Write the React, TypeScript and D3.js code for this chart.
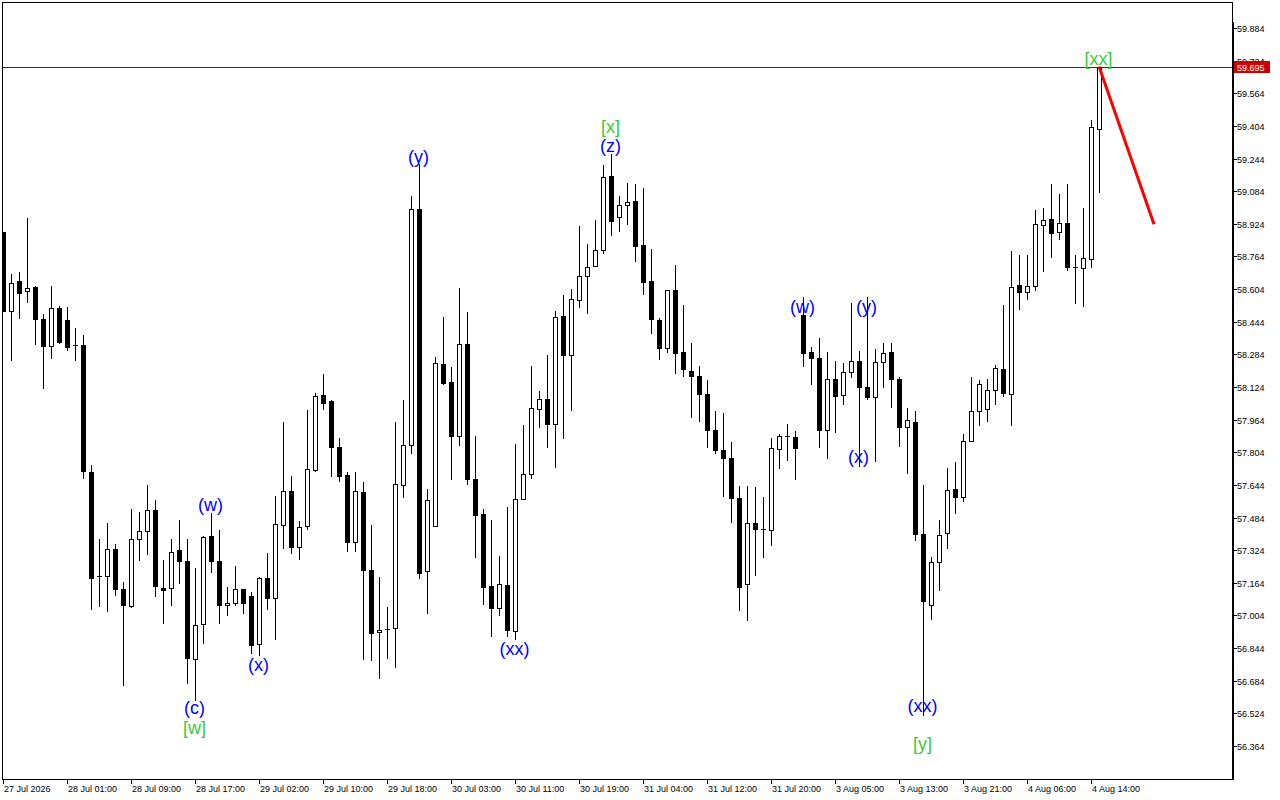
import React from 'react';
import * as d3 from 'd3';

// [open, high, low, close] hourly candles
const ohlc: [number, number, number, number][] = [
  [58.883, 58.883, 58.499, 58.499],
  [58.499, 58.679, 58.257, 58.633],
  [58.644, 58.688, 58.460, 58.587],
  [58.594, 58.952, 58.543, 58.609],
  [58.613, 58.620, 58.336, 58.455],
  [58.458, 58.483, 58.117, 58.327],
  [58.327, 58.620, 58.264, 58.511],
  [58.511, 58.522, 58.342, 58.345],
  [58.453, 58.515, 58.303, 58.322],
  [58.329, 58.414, 58.254, 58.329],
  [58.329, 58.380, 57.676, 57.710],
  [57.707, 57.741, 57.034, 57.186],
  [57.197, 57.380, 57.048, 57.197],
  [57.195, 57.459, 57.024, 57.330],
  [57.330, 57.356, 57.102, 57.133],
  [57.135, 57.168, 56.661, 57.053],
  [57.052, 57.526, 57.045, 57.379],
  [57.379, 57.511, 57.274, 57.418],
  [57.418, 57.645, 57.303, 57.521],
  [57.521, 57.571, 57.101, 57.146],
  [57.137, 57.277, 56.969, 57.129],
  [57.139, 57.380, 57.057, 57.315],
  [57.325, 57.473, 57.161, 57.269],
  [57.272, 57.380, 56.671, 56.794],
  [56.789, 57.237, 56.591, 56.957],
  [56.960, 57.395, 56.867, 57.390],
  [57.395, 57.504, 57.215, 57.269],
  [57.272, 57.424, 56.965, 57.053],
  [57.055, 57.143, 57.004, 57.065],
  [57.063, 57.248, 57.055, 57.134],
  [57.134, 57.136, 57.014, 57.063],
  [57.099, 57.119, 56.820, 56.857],
  [56.862, 57.192, 56.808, 57.188],
  [57.188, 57.312, 57.036, 57.088],
  [57.088, 57.591, 56.887, 57.452],
  [57.449, 57.953, 57.333, 57.614],
  [57.614, 57.689, 57.310, 57.338],
  [57.338, 57.467, 57.279, 57.437],
  [57.442, 58.011, 57.426, 57.722],
  [57.717, 58.094, 57.714, 58.079],
  [58.086, 58.189, 58.016, 58.048],
  [58.055, 58.058, 57.690, 57.832],
  [57.832, 57.874, 57.664, 57.689],
  [57.691, 57.705, 57.321, 57.365],
  [57.362, 57.705, 57.321, 57.612],
  [57.607, 57.657, 56.791, 57.227],
  [57.228, 57.446, 56.786, 56.919],
  [56.924, 57.191, 56.698, 56.934],
  [56.939, 57.044, 56.797, 56.939],
  [56.943, 57.951, 56.752, 57.647],
  [57.646, 58.060, 57.585, 57.838],
  [57.838, 59.060, 57.802, 58.996],
  [58.996, 59.219, 57.186, 57.213],
  [57.220, 57.622, 57.014, 57.568],
  [57.444, 58.271, 57.444, 58.244],
  [58.238, 58.465, 58.141, 58.145],
  [58.149, 58.221, 57.671, 57.883],
  [57.883, 58.610, 57.839, 58.336],
  [58.336, 58.492, 57.648, 57.671],
  [57.672, 57.886, 57.293, 57.496],
  [57.500, 57.524, 57.060, 57.143],
  [57.150, 57.470, 56.903, 57.041],
  [57.041, 57.297, 57.006, 57.158],
  [57.155, 57.537, 56.901, 56.931],
  [56.930, 57.846, 56.887, 57.575],
  [57.577, 57.939, 57.575, 57.697],
  [57.697, 58.228, 57.676, 58.021],
  [58.016, 58.105, 57.930, 58.065],
  [58.066, 58.282, 57.828, 57.942],
  [57.942, 58.496, 57.734, 58.465],
  [58.471, 58.574, 57.875, 58.283],
  [58.283, 58.605, 58.009, 58.555],
  [58.551, 58.914, 58.518, 58.667],
  [58.667, 58.826, 58.486, 58.711],
  [58.716, 58.943, 58.716, 58.795],
  [58.795, 59.213, 58.780, 59.152],
  [59.157, 59.267, 58.871, 58.940],
  [58.956, 59.059, 58.891, 59.015],
  [59.015, 59.124, 58.925, 59.030],
  [59.035, 59.118, 58.744, 58.817],
  [58.819, 59.100, 58.579, 58.641],
  [58.643, 58.800, 58.391, 58.455],
  [58.452, 58.463, 58.261, 58.313],
  [58.314, 58.601, 58.295, 58.599],
  [58.599, 58.723, 58.195, 58.293],
  [58.295, 58.525, 58.180, 58.210],
  [58.202, 58.339, 57.979, 58.177],
  [58.179, 58.228, 57.955, 58.089],
  [58.089, 58.159, 57.828, 57.911],
  [57.913, 58.007, 57.800, 57.813],
  [57.815, 57.998, 57.592, 57.774],
  [57.776, 57.855, 57.460, 57.578],
  [57.580, 57.640, 57.029, 57.142],
  [57.158, 57.640, 56.980, 57.455],
  [57.455, 57.635, 57.200, 57.428],
  [57.426, 57.586, 57.289, 57.426],
  [57.423, 57.875, 57.349, 57.825],
  [57.820, 57.893, 57.725, 57.883],
  [57.883, 57.944, 57.767, 57.883],
  [57.880, 57.909, 57.671, 57.823],
  [58.478, 58.567, 58.228, 58.293],
  [58.296, 58.321, 58.141, 58.264],
  [58.267, 58.364, 57.828, 57.911],
  [57.911, 58.296, 57.774, 58.163],
  [58.163, 58.252, 57.901, 58.082],
  [58.084, 58.241, 58.043, 58.197],
  [58.197, 58.535, 58.175, 58.251],
  [58.251, 58.301, 57.739, 58.122],
  [58.124, 58.567, 58.063, 58.077],
  [58.075, 58.310, 57.759, 58.246],
  [58.246, 58.339, 58.126, 58.290],
  [58.295, 58.340, 58.025, 58.161],
  [58.163, 58.175, 57.837, 57.926],
  [57.926, 58.021, 57.700, 57.962],
  [57.953, 58.007, 57.375, 57.403],
  [57.404, 57.645, 56.518, 57.073],
  [57.053, 57.293, 56.987, 57.267],
  [57.266, 57.473, 57.127, 57.398],
  [57.408, 57.725, 57.333, 57.619],
  [57.624, 57.756, 57.504, 57.583],
  [57.587, 57.895, 57.563, 57.860],
  [57.859, 58.175, 57.859, 58.006],
  [58.006, 58.156, 57.940, 58.140],
  [58.014, 58.164, 57.955, 58.109],
  [58.109, 58.230, 58.039, 58.217],
  [58.212, 58.525, 58.081, 58.094],
  [58.089, 58.791, 57.939, 58.613],
  [58.623, 58.772, 58.506, 58.592],
  [58.589, 58.772, 58.555, 58.618],
  [58.618, 58.991, 58.599, 58.922],
  [58.919, 59.001, 58.692, 58.945],
  [58.947, 59.120, 58.759, 58.878],
  [58.883, 59.069, 58.849, 58.927],
  [58.927, 59.120, 58.700, 58.714],
  [58.710, 58.770, 58.538, 58.710],
  [58.707, 59.002, 58.523, 58.756],
  [58.751, 59.433, 58.710, 59.397],
  [59.388, 59.695, 59.082, 59.695],
];

const timeLabels = [
  '27 Jul 2026', '28 Jul 01:00', '28 Jul 09:00', '28 Jul 17:00', '29 Jul 02:00',
  '29 Jul 10:00', '29 Jul 18:00', '30 Jul 03:00', '30 Jul 11:00', '30 Jul 19:00',
  '31 Jul 04:00', '31 Jul 12:00', '31 Jul 20:00', '3 Aug 05:00', '3 Aug 13:00',
  '3 Aug 21:00', '4 Aug 06:00', '4 Aug 14:00',
];
const timeLabelBars = [0, 8, 16, 24, 32, 40, 48, 56, 64, 72, 80, 88, 96, 104, 112, 120, 128, 136];

const priceTicks = [
  '59.884', '59.724', '59.564', '59.404', '59.244', '59.084', '58.924', '58.764',
  '58.604', '58.444', '58.284', '58.124', '57.964', '57.804', '57.644', '57.484',
  '57.324', '57.164', '57.004', '56.844', '56.684', '56.524', '56.364',
];

type Wave = { bar: number; price: number; text: string; major: boolean };
const waveLabels: Wave[] = [
  { bar: 24, price: 56.552, text: '(c)', major: false },
  { bar: 24, price: 56.451, text: '[w]', major: true },
  { bar: 26, price: 57.547, text: '(w)', major: false },
  { bar: 32, price: 56.763, text: '(x)', major: false },
  { bar: 52, price: 59.252, text: '(y)', major: false },
  { bar: 64, price: 56.841, text: '(xx)', major: false },
  { bar: 76, price: 59.399, text: '[x]', major: true },
  { bar: 76, price: 59.306, text: '(z)', major: false },
  { bar: 100, price: 58.517, text: '(w)', major: false },
  { bar: 108, price: 58.517, text: '(y)', major: false },
  { bar: 107, price: 57.782, text: '(x)', major: false },
  { bar: 115, price: 56.562, text: '(xx)', major: false },
  { bar: 115, price: 56.376, text: '[y]', major: true },
  { bar: 137, price: 59.734, text: '[xx]', major: true },
];

const currentPrice = 59.695;
const currentPriceLabel = '59.695';
const projection: [number, number][] = [
  [137, 59.695],
  [143.875, 58.922],
];

const W = 1280;
const H = 800;
const LEFT = 2;
const RIGHT = 1232;
const TOP = 2;
const BOTTOM = 779;

export default function App() {
  const x = d3.scaleLinear().domain([0, 137]).range([3, 1099]);
  const y = d3.scaleLinear().domain([56.364, 59.884]).range([746, 28]);
  const line = d3
    .line<[number, number]>()
    .x((d) => x(d[0]))
    .y((d) => y(d[1]));

  const axisFont = "'Liberation Sans', Arial, sans-serif";

  return (
    <svg
      width={W}
      height={H}
      style={{ position: 'fixed', left: 0, top: 0, background: '#fff' }}
      shapeRendering="crispEdges"
    >
      <rect x={0} y={0} width={W} height={H} fill="#fff" />
      <defs>
        <clipPath id="plot">
          <rect x={LEFT + 1} y={TOP + 1} width={RIGHT - LEFT - 1} height={BOTTOM - TOP - 1} />
        </clipPath>
      </defs>

      <g clipPath="url(#plot)">
        {/* current price line */}
        <line
          x1={LEFT}
          x2={RIGHT}
          y1={Math.round(y(currentPrice)) + 0.5}
          y2={Math.round(y(currentPrice)) + 0.5}
          stroke="#8a1010"
          strokeWidth={1}
        />
        {ohlc.map((d, i) => {
          const [o, h, l, c] = d;
          const cx = Math.round(x(i));
          const yH = Math.round(y(h));
          const yL = Math.round(y(l));
          const yT = Math.round(y(Math.max(o, c)));
          const yB = Math.round(y(Math.min(o, c)));
          const bull = c >= o;
          const body =
            yB - yT < 1 ? (
              <line x1={cx - 2} x2={cx + 3} y1={yT + 0.5} y2={yT + 0.5} stroke="#000" strokeWidth={1} />
            ) : bull ? (
              <rect x={cx - 1.5} y={yT + 0.5} width={4} height={yB - yT} fill="#fff" stroke="#000" strokeWidth={1} />
            ) : (
              <rect x={cx - 2} y={yT} width={5} height={yB - yT + 1} fill="#000" />
            );
          return (
            <g key={i}>
              <line x1={cx + 0.5} x2={cx + 0.5} y1={yH} y2={yL + 1} stroke="#000" strokeWidth={1} />
              {body}
            </g>
          );
        })}
        <path
          d={line(projection) || ''}
          fill="none"
          stroke="#ff0000"
          strokeWidth={3}
          shapeRendering="auto"
        />
        {waveLabels.map((w, i) => (
          <text
            key={i}
            x={x(w.bar) - 0.5}
            y={y(w.price)}
            textAnchor="middle"
            dominantBaseline="central"
            fontFamily="'Liberation Sans', Arial, sans-serif"
            fontSize={18}
            fill={w.major ? '#3cc83c' : '#0000ff'}
            shapeRendering="auto"
          >
            {w.text}
          </text>
        ))}
      </g>

      {/* frame */}
      <rect
        x={LEFT + 0.5}
        y={TOP + 0.5}
        width={RIGHT - LEFT}
        height={BOTTOM - TOP}
        fill="none"
        stroke="#000"
        strokeWidth={1}
      />
      <line x1={RIGHT + 1} x2={RIGHT + 1} y1={22} y2={BOTTOM + 1} stroke="#000" strokeWidth={2} />

      {/* price axis */}
      {priceTicks.map((t) => {
        const ty = Math.round(y(+t)) + 0.5;
        return (
          <g key={t}>
            <line x1={RIGHT + 1} x2={RIGHT + 5} y1={ty} y2={ty} stroke="#000" />
            <text
              x={RIGHT + 5}
              y={ty}
              dominantBaseline="central"
              fontFamily={axisFont}
              fontSize={9}
              fill="#000"
            >
              {t}
            </text>
          </g>
        );
      })}
      <rect
        x={RIGHT + 2}
        y={Math.round(y(currentPrice)) - 6}
        width={36}
        height={12}
        fill="#cc0000"
      />
      <text
        x={RIGHT + 5}
        y={Math.round(y(currentPrice)) + 0.5}
        dominantBaseline="central"
        fontFamily={axisFont}
        fontSize={9}
        fill="#fff"
      >
        {currentPriceLabel}
      </text>

      {/* time axis */}
      {timeLabels.map((t, i) => {
        const tx = Math.round(x(timeLabelBars[i]));
        return (
          <g key={t}>
            <line x1={tx + 0.5} x2={tx + 0.5} y1={BOTTOM} y2={BOTTOM + 5} stroke="#000" />
            <text x={tx + 1} y={789} dominantBaseline="central" fontFamily={axisFont} fontSize={9} fill="#000">
              {t}
            </text>
          </g>
        );
      })}
    </svg>
  );
}
